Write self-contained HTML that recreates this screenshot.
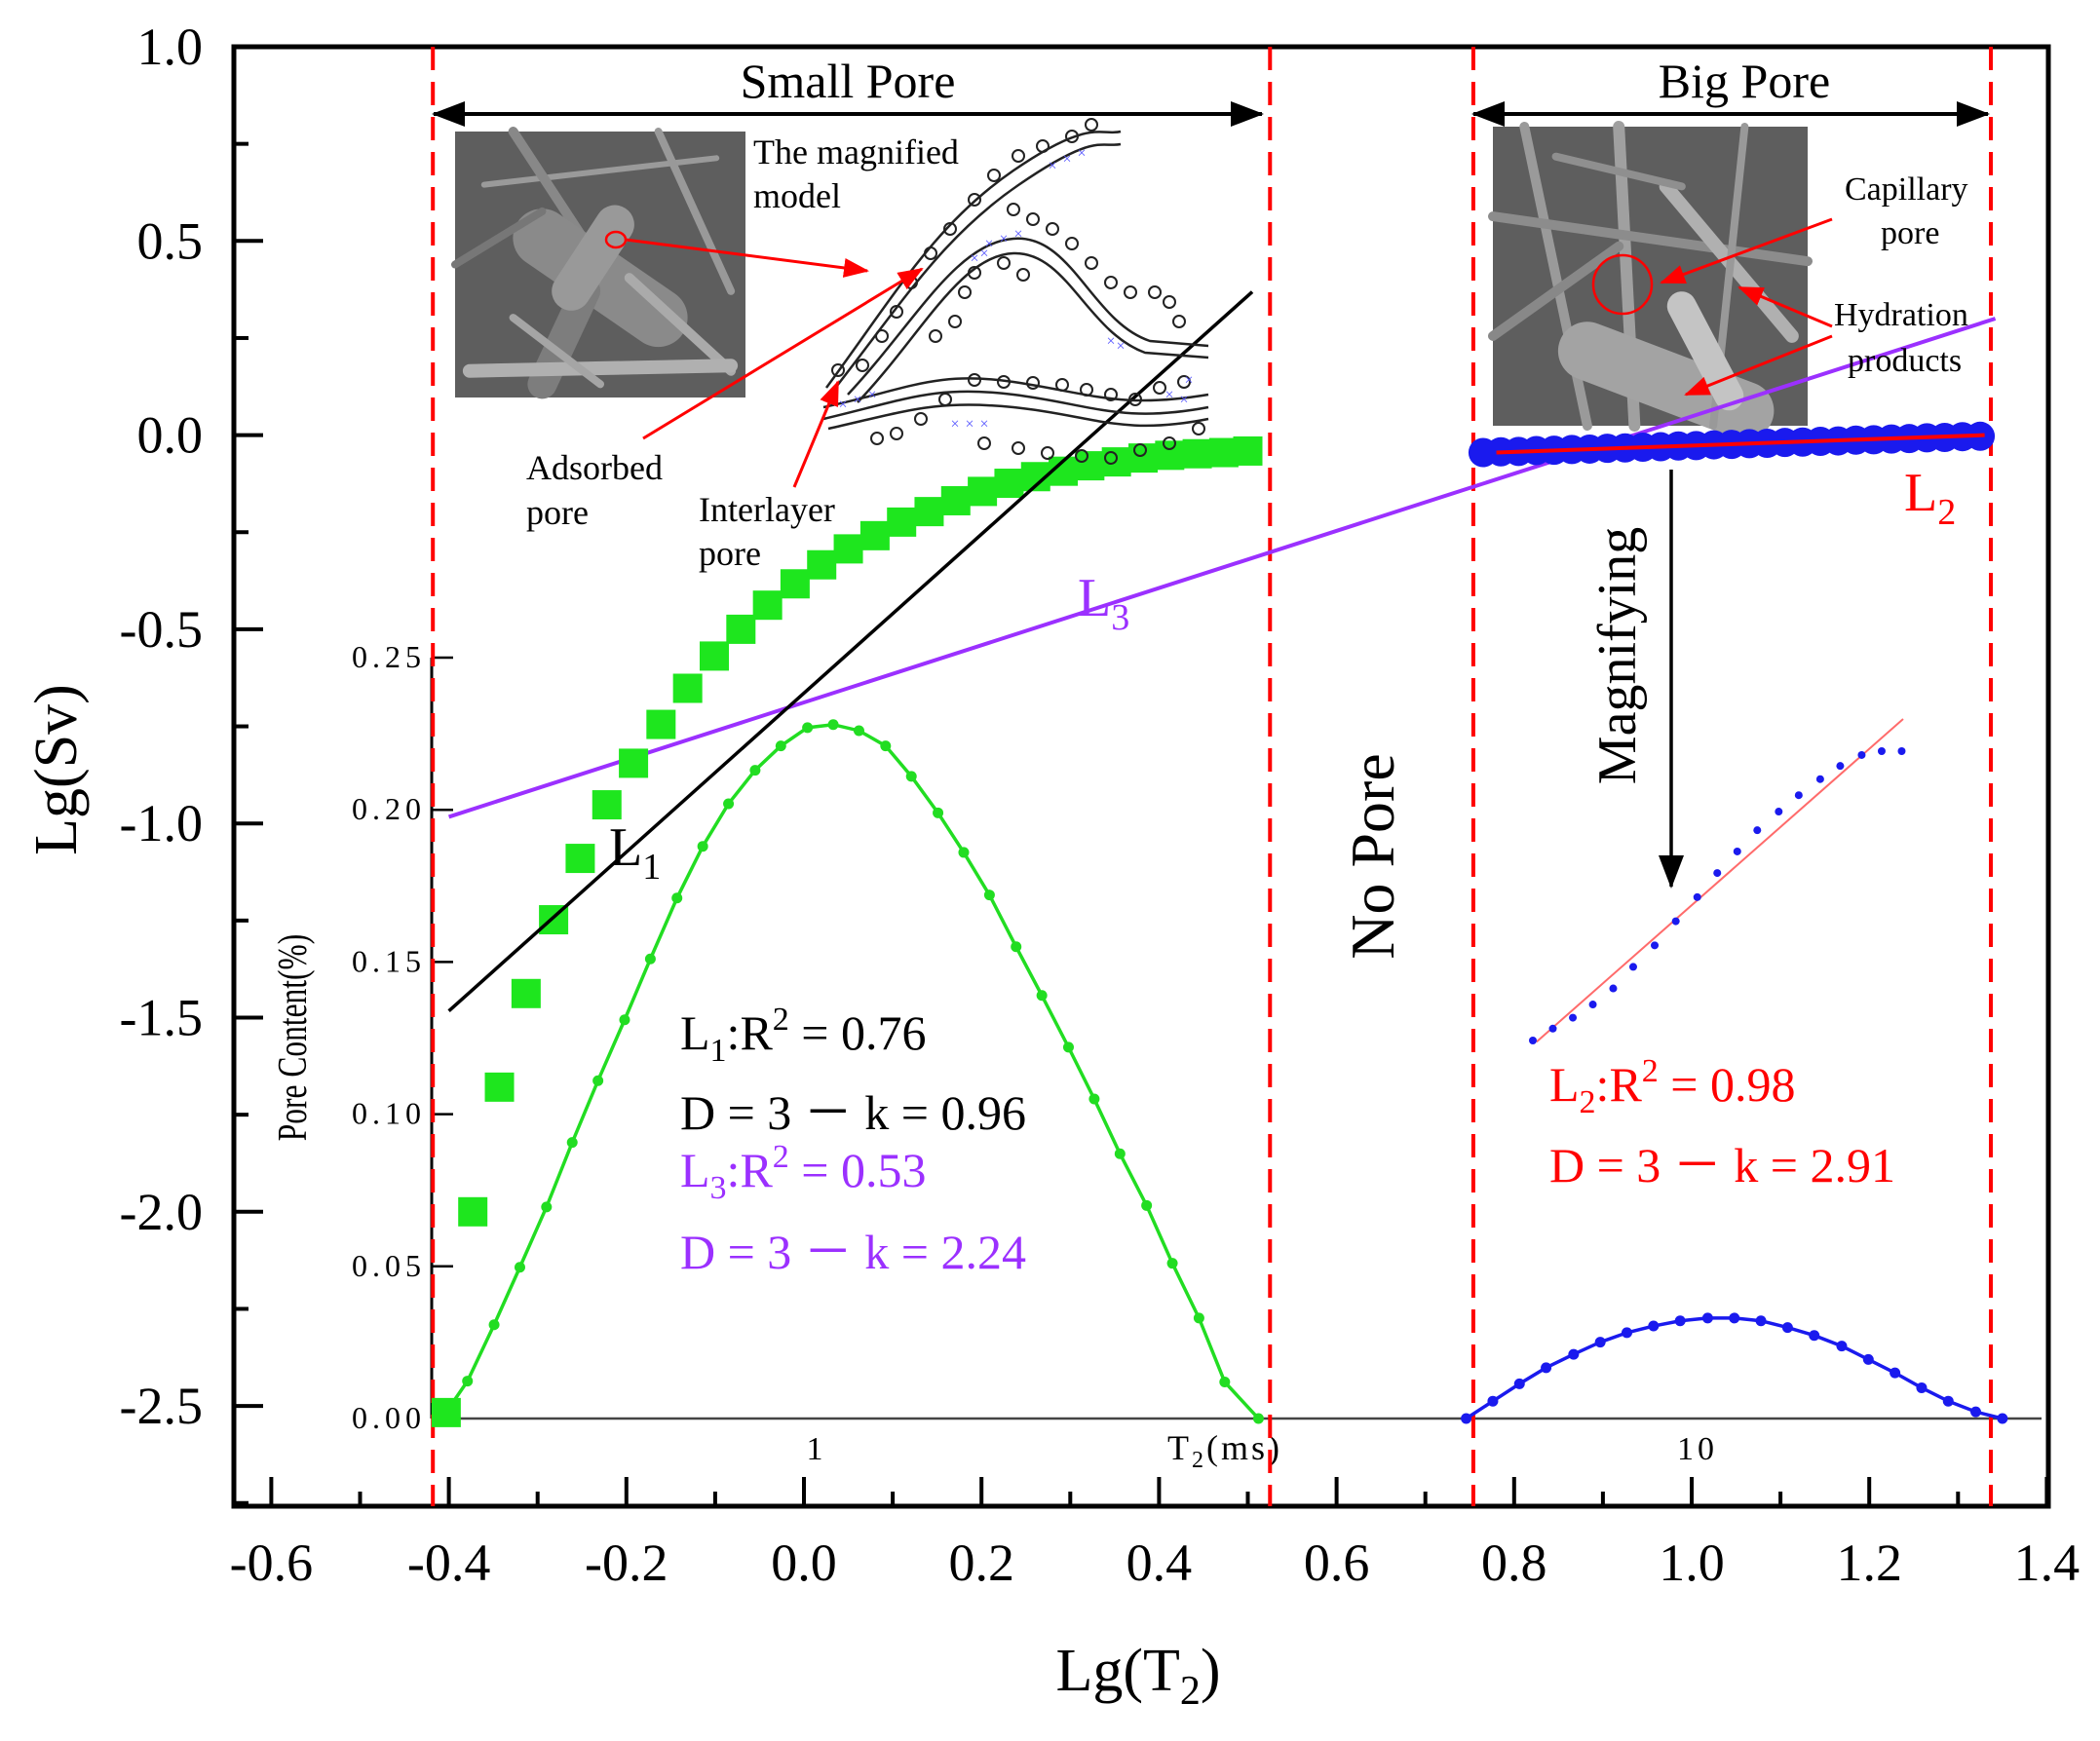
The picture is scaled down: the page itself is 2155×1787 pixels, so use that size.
<!DOCTYPE html>
<html><head><meta charset="utf-8"><style>
html,body{margin:0;padding:0;background:#fff;}
svg{display:block;font-family:"Liberation Serif","DejaVu Serif",serif;}
</style></head><body>
<svg id="chart" width="2155" height="1787" viewBox="0 0 2155 1787" xmlns="http://www.w3.org/2000/svg">
<defs>
<marker id="ah" markerWidth="10" markerHeight="10" refX="9" refY="5" orient="auto" markerUnits="userSpaceOnUse"><path d="M0,0 L10,5 L0,10 z" fill="#000"/></marker>
<marker id="ahr" markerWidth="26" markerHeight="20" refX="24" refY="10" orient="auto" markerUnits="userSpaceOnUse"><path d="M0,0 L26,10 L0,20 z" fill="#f00"/></marker>
<marker id="ahb" markerWidth="34" markerHeight="26" refX="32" refY="13" orient="auto" markerUnits="userSpaceOnUse"><path d="M0,0 L34,13 L0,26 z" fill="#000"/></marker>
</defs>
<g id="photos"></g>
<g id="layer"></g>
</svg>
<script>
// ---- data ----
const xTicks = [-0.6,-0.4,-0.2,0.0,0.2,0.4,0.6,0.8,1.0,1.2,1.4];
const xTickLabels = ["-0.6","-0.4","-0.2","0.0","0.2","0.4","0.6","0.8","1.0","1.2","1.4"];
const yTicks = [1.0,0.5,0.0,-0.5,-1.0,-1.5,-2.0,-2.5];
const yTickLabels = ["1.0","0.5","0.0","-0.5","-1.0","-1.5","-2.0","-2.5"];
const boundaries = [-0.418,0.525,0.754,1.337];
const sqX = [-0.403,-0.373,-0.343,-0.313,-0.282,-0.252,-0.222,-0.192,-0.161,-0.131,-0.101,-0.071,-0.041,-0.010,0.020,0.050,0.080,0.110,0.141,0.171,0.201,0.231,0.261,0.292,0.322,0.352,0.382,0.412,0.443,0.473,0.500];
const sqY = [-2.517,-2.0,-1.679,-1.438,-1.248,-1.090,-0.952,-0.845,-0.745,-0.652,-0.569,-0.5,-0.438,-0.383,-0.334,-0.293,-0.259,-0.224,-0.197,-0.169,-0.145,-0.124,-0.107,-0.093,-0.079,-0.069,-0.059,-0.052,-0.048,-0.045,-0.041];
const bigX = [0.765,0.785,0.805,0.825,0.845,0.865,0.885,0.905,0.925,0.945,0.965,0.985,1.005,1.025,1.045,1.065,1.085,1.105,1.125,1.145,1.165,1.185,1.205,1.225,1.245,1.265,1.285,1.305,1.325];
const bigY = [-0.045,-0.043,-0.042,-0.040,-0.039,-0.037,-0.036,-0.034,-0.033,-0.031,-0.030,-0.028,-0.027,-0.025,-0.024,-0.022,-0.021,-0.019,-0.018,-0.016,-0.015,-0.013,-0.012,-0.010,-0.009,-0.007,-0.006,-0.004,-0.003];
const L1 = {x:[-0.40,0.505], y:[-1.483,0.369]};
const L2 = {x:[0.78,1.33], y:[-0.045,0.0]};
const L3 = {x:[-0.40,1.342], y:[-0.983,0.300]};
const pcTicks = [0.00,0.05,0.10,0.15,0.20,0.25];
const pcTickLabels = ["0.00","0.05","0.10","0.15","0.20","0.25"];
const smallX = [-0.408,-0.379,-0.349,-0.320,-0.290,-0.261,-0.232,-0.202,-0.173,-0.143,-0.114,-0.085,-0.055,-0.026,0.004,0.033,0.062,0.092,0.121,0.151,0.180,0.209,0.239,0.268,0.298,0.327,0.356,0.386,0.415,0.445,0.474,0.512];
const smallP = [0,0.0123,0.0308,0.0497,0.0695,0.0907,0.111,0.131,0.151,0.171,0.188,0.202,0.213,0.221,0.227,0.228,0.226,0.221,0.211,0.199,0.186,0.172,0.155,0.139,0.122,0.105,0.087,0.070,0.051,0.033,0.012,0];
const bigPX = [0.746,0.776,0.806,0.836,0.867,0.897,0.927,0.957,0.987,1.018,1.048,1.078,1.108,1.138,1.169,1.199,1.229,1.259,1.289,1.320,1.350];
const bigP = [0,0.0057,0.0114,0.0167,0.0211,0.0251,0.0282,0.0304,0.0321,0.033,0.033,0.0321,0.0299,0.0273,0.0238,0.0194,0.0150,0.0101,0.0057,0.0022,0];
const magX = [0,0.054,0.108,0.162,0.217,0.271,0.329,0.386,0.444,0.498,0.552,0.606,0.664,0.718,0.776,0.830,0.888,0.942,0.996];
const magY = [0,0.037,0.071,0.112,0.162,0.229,0.296,0.371,0.446,0.521,0.588,0.654,0.712,0.763,0.813,0.854,0.888,0.900,0.900];
const magFit = {x:[0.01,1.0], y:[-0.004,1.0]};

// ---- scales ----
const X = v => 825 + v*911;
const Y = v => 48 + (1-v)*398.6;
const PY = p => 1456 - p*3124;
const MX = u => 1573 + u*380;
const MY = u => 1068 - u*330;

const NS="http://www.w3.org/2000/svg";
const layer=document.getElementById('layer');
const photos=document.getElementById('photos');
function mk(tag,attrs,parent){const e=document.createElementNS(NS,tag);for(const k in attrs)e.setAttribute(k,attrs[k]);(parent||layer).appendChild(e);return e;}
function txt(s,attrs,parent){const e=mk('text',attrs,parent);e.innerHTML=s;return e;}

// ---- photos (SEM imitations) ----
function photo(x,y,w,h,name,strokes){
  const g=mk('g',{},photos);
  
  
  mk('rect',{x:x,y:y,width:w,height:h,fill:'#5e5e5e'},g);
  strokes.forEach(s=>mk('line',{x1:x+s[0]*w,y1:y+s[1]*h,x2:x+s[2]*w,y2:y+s[3]*h,stroke:s[5]||'#9a9a9a','stroke-width':s[4],'stroke-linecap':'round'},g));
}
photo(467,135,298,273,'sem-image-small-pore',[
 [0.1,0.2,0.9,0.1,6],[0.2,0.0,0.5,0.5,10,'#888'],[0.3,0.4,0.7,0.7,60,'#8a8a8a'],[0.45,0.6,0.3,0.95,30,'#7d7d7d'],[0.6,0.55,0.95,0.9,10,'#aaa'],[0.05,0.9,0.95,0.88,14,'#b0b0b0'],[0.0,0.5,0.3,0.3,8,'#777'],[0.7,0.0,0.95,0.6,8,'#999'],[0.2,0.7,0.5,0.95,8,'#a5a5a5'],[0.55,0.35,0.4,0.6,40,'#999']
]);
photo(1532,130,323,307,'sem-image-big-pore',[
 [0.1,0.0,0.3,1.0,10,'#9a9a9a'],[0.4,0.0,0.45,1.0,12,'#a0a0a0'],[0.0,0.3,1.0,0.45,10,'#8c8c8c'],[0.55,0.2,0.95,0.7,14,'#b0b0b0'],[0.3,0.75,0.8,0.95,60,'#a3a3a3'],[0.8,0.0,0.7,1.0,8,'#999'],[0.0,0.7,0.4,0.4,10,'#888'],[0.6,0.6,0.75,0.9,30,'#c4c4c4'],[0.2,0.1,0.6,0.2,8,'#8f8f8f']
]);

// ---- axes frame ----
const frame=mk('rect',{x:240,y:48,width:1862,height:1498,fill:'none',stroke:'#000','stroke-width':5});


xTicks.forEach((v,i)=>{
  const t=mk('line',{x1:X(v),y1:1546,x2:X(v),y2:1516,stroke:'#000','stroke-width':4});
  
  
  if(i<xTicks.length-1){const m=mk('line',{x1:X(v+0.1),y1:1546,x2:X(v+0.1),y2:1531,stroke:'#000','stroke-width':4});
  
  }
  const l=txt(xTickLabels[i],{x:X(v),y:1622,'font-size':54,'text-anchor':'middle'});
  
  
});
yTicks.forEach((v,i)=>{
  const t=mk('line',{x1:240,y1:Y(v),x2:270,y2:Y(v),stroke:'#000','stroke-width':4});
  
  
  const m=mk('line',{x1:240,y1:Y(v-0.25),x2:255,y2:Y(v-0.25),stroke:'#000','stroke-width':4});
  
  
  const l=txt(yTickLabels[i],{x:208,y:Y(v)+18,'font-size':54,'text-anchor':'end'});
  
  
});
const xt=txt('Lg(T<tspan font-size="42" dy="14">2</tspan><tspan dy="-14">)</tspan>',{x:1168,y:1735,'font-size':62,'text-anchor':'middle'});


const yt=txt('Lg(Sv)',{x:0,y:0,'font-size':62,'text-anchor':'middle',transform:'translate(78,790) rotate(-90)'});



// ---- inset pore content axis ----
const pa=mk('line',{x1:443,y1:PY(0.25),x2:443,y2:1456,stroke:'#000','stroke-width':3});


const pb=mk('line',{x1:443,y1:1456,x2:2095,y2:1456,stroke:'#444','stroke-width':2.5});


pcTicks.forEach((p,i)=>{
  const t=mk('line',{x1:443,y1:PY(p),x2:465,y2:PY(p),stroke:'#000','stroke-width':2.5});
  
  
  const l=txt(pcTickLabels[i],{x:437,y:PY(p)+10,'font-size':32,'text-anchor':'end','letter-spacing':'5'});
  
  
});
const pl=txt('Pore Content(%)',{x:0,y:0,'font-size':42,'text-anchor':'middle',transform:'translate(314,1065) rotate(-90) scale(0.75,1)'});


[['1',838],['10',1742]].forEach(a=>{const l=txt(a[0],{x:a[1],y:1498,'font-size':34,'text-anchor':'middle','letter-spacing':'4'});
  
  });
const t2l=txt('T<tspan font-size="24" dy="8">2</tspan><tspan dy="-8">(ms)</tspan>',{x:1257,y:1498,'font-size':36,'text-anchor':'middle','letter-spacing':'3'});



// ---- boundaries ----
boundaries.forEach(v=>{const b=mk('line',{x1:X(v),y1:48,x2:X(v),y2:1546,stroke:'#f00','stroke-width':4,'stroke-dasharray':'24,12'});
  
  });

// ---- pore distribution curves ----
function curve(xs,ps,color,name){
  const pts=xs.map((x,i)=>X(x)+','+PY(ps[i])).join(' ');
  const pl=mk('polyline',{points:pts,fill:'none',stroke:color,'stroke-width':3.5});
  
  
  xs.forEach((x,i)=>{const c=mk('circle',{cx:X(x),cy:PY(ps[i]),r:5.5,fill:color});
    
    });
}
curve(smallX,smallP,'#22dd22','small-pore-distribution');
curve(bigPX,bigP,'#1a1aee','big-pore-distribution');

// ---- fit lines ----
function fit(f,color,w,name){const l=mk('line',{x1:X(f.x[0]),y1:Y(f.y[0]),x2:X(f.x[1]),y2:Y(f.y[1]),stroke:color,'stroke-width':w});
  
  }
fit(L3,'#9b30ff',4,'fit-line-l3');

// ---- squares ----
sqX.forEach((x,i)=>{const r=mk('rect',{x:X(x)-15,y:Y(sqY[i])-15,width:30,height:30,fill:'#1ee61e'});
  
  });
fit(L1,'#000',3.5,'fit-line-l1');

// ---- big pore circles ----
bigX.forEach((x,i)=>{const c=mk('circle',{cx:X(x),cy:Y(bigY[i]),r:15,fill:'#1a1aee'});
  
  });
fit(L2,'#f00',4,'fit-line-l2');

// ---- magnified inset ----
const mf=mk('line',{x1:MX(magFit.x[0]),y1:MY(magFit.y[0]),x2:MX(magFit.x[1]),y2:MY(magFit.y[1]),stroke:'#ff6b6b','stroke-width':2});


magX.forEach((x,i)=>{const c=mk('circle',{cx:MX(x),cy:MY(magY[i]),r:4,fill:'#1a1aee'});
  
  });

// ---- magnified model schematic ----
const sch=mk('g',{});


['M848,398 C920,300 960,230 1040,175 S1130,140 1150,135','M848,410 C925,312 965,245 1045,190 S1130,152 1150,148',
 'M870,405 C940,330 980,250 1040,245 S1120,330 1180,350 L1240,355','M880,413 C945,345 985,262 1040,260 S1115,340 1175,362 L1240,367',
 'M845,418 C930,400 960,380 1040,392 S1150,420 1240,405','M845,430 C930,410 960,395 1040,405 S1150,435 1240,418','M850,440 C930,422 960,410 1040,418 S1150,448 1240,430']
 .forEach(d=>mk('path',{d:d,fill:'none',stroke:'#222','stroke-width':2.5},sch));
const circPath=[[860,380],[885,375],[905,345],[920,320],[935,290],[955,260],[975,235],[1000,205],[1020,180],[1045,160],[1070,150],[1100,140],[1120,128],
 [900,450],[920,445],[945,430],[970,410],[1000,390],[1030,392],[1060,393],[1090,395],[1115,400],[1140,405],[1165,410],[1190,398],[1215,392],
 [1010,455],[1045,460],[1075,465],[1110,468],[1140,470],[1170,462],[1200,455],[1230,440],
 [1040,215],[1060,225],[1080,235],[1100,250],[1120,270],[1140,290],[1160,300],[1185,300],[1200,310],[1210,330],
 [990,300],[1000,280],[1050,282],[1030,270],[960,345],[980,330]];
circPath.forEach(p=>mk('circle',{cx:p[0],cy:p[1],r:6,fill:'none',stroke:'#222','stroke-width':2},sch));
[[865,420],[880,415],[895,410],[1080,175],[1095,168],[1110,162],[1015,255],[1030,250],[1045,245],[1010,265],[1000,270],[980,440],[995,440],[1010,440],[1140,355],[1150,360],[1200,410],[1215,415],[1220,395]]
 .forEach(p=>txt('×',{x:p[0],y:p[1],'font-size':16,fill:'#5555ff','text-anchor':'middle'},sch));

// ---- annotation arrows ----
function arrow(x1,y1,x2,y2,name,color,w,m){const l=mk('line',{x1:x1,y1:y1,x2:x2,y2:y2,stroke:color,'stroke-width':w,'marker-end':'url(#'+m+')'});
  
  return l;}
arrow(445,117,1295,117,'small-pore-range-arrow','#000',4,'ahb');
arrow(1295,117,445,117,'small-pore-range-arrow-back','#000',0,'ahb');
arrow(1512,117,2040,117,'big-pore-range-arrow','#000',4,'ahb');
arrow(2040,117,1512,117,'big-pore-range-arrow-back','#000',0,'ahb');
const rc=mk('ellipse',{cx:632,cy:246,rx:10,ry:8,fill:'none',stroke:'#f00','stroke-width':2.5});


arrow(642,246,890,278,'magnified-model-arrow','#f00',3,'ahr');
arrow(660,450,946,276,'adsorbed-pore-arrow','#f00',3,'ahr');
arrow(815,500,860,392,'interlayer-pore-arrow','#f00',3,'ahr');
const rc2=mk('circle',{cx:1665,cy:292,r:30,fill:'none',stroke:'#f00','stroke-width':2.5});


arrow(1880,225,1705,290,'capillary-pore-arrow','#f00',3,'ahr');
arrow(1880,335,1785,295,'hydration-arrow-1','#f00',3,'ahr');
arrow(1880,345,1730,405,'hydration-arrow-2','#f00',3,'ahr');
arrow(1715,482,1715,910,'magnifying-arrow','#000',3.5,'ahb');

// ---- text labels ----
function label(s,x,y,size,color,name,extra){const a={x:x,y:y,'font-size':size,fill:color};if(extra)Object.assign(a,extra);const t=txt(s,a);
  
  return t;}
label('Small Pore',870,100,50,'#000','small-pore-label',{'text-anchor':'middle'});
label('Big Pore',1790,100,50,'#000','big-pore-label',{'text-anchor':'middle'});
label('The magnified',773,168,36,'#000','magnified-model-label');
label('model',773,213,36,'#000','magnified-model-label-2');
label('Adsorbed',540,492,36,'#000','adsorbed-pore-label');
label('pore',540,538,36,'#000','adsorbed-pore-label-2');
label('Interlayer',717,535,36,'#000','interlayer-pore-label');
label('pore',717,580,36,'#000','interlayer-pore-label-2');
label('Capillary',1893,205,34,'#000','capillary-pore-label');
label('pore',1930,250,34,'#000','capillary-pore-label-2');
label('Hydration',1882,334,34,'#000','hydration-products-label');
label('products',1896,381,34,'#000','hydration-products-label-2');
label('L<tspan font-size="38" dy="14">3</tspan>',1106,632,56,'#9b30ff','l3-label');
label('L<tspan font-size="38" dy="14">1</tspan>',625,888,56,'#000','l1-label');
label('L<tspan font-size="38" dy="14">2</tspan>',1954,524,56,'#f00','l2-label');
label('L<tspan font-size="34" dy="12">1</tspan><tspan dy="-12">:R</tspan><tspan font-size="34" dy="-20">2</tspan><tspan dy="20"> = 0.76</tspan>',698,1077,50,'#000','l1-r2-text');
label('D = 3 － k = 0.96',698,1159,50,'#000','l1-d-text');
label('L<tspan font-size="34" dy="12">3</tspan><tspan dy="-12">:R</tspan><tspan font-size="34" dy="-20">2</tspan><tspan dy="20"> = 0.53</tspan>',698,1218,50,'#9b30ff','l3-r2-text');
label('D = 3 － k = 2.24',698,1302,50,'#9b30ff','l3-d-text');
label('L<tspan font-size="34" dy="12">2</tspan><tspan dy="-12">:R</tspan><tspan font-size="34" dy="-20">2</tspan><tspan dy="20"> = 0.98</tspan>',1590,1130,50,'#f00','l2-r2-text');
label('D = 3 － k = 2.91',1590,1213,50,'#f00','l2-d-text');
label('No Pore',0,0,64,'#000','no-pore-label',{'text-anchor':'middle',transform:'translate(1430,879) rotate(-90)'});
label('Magnifying',0,0,56,'#000','magnifying-label',{'text-anchor':'middle',transform:'translate(1678,673) rotate(-90)'});
</script>
</body></html>
